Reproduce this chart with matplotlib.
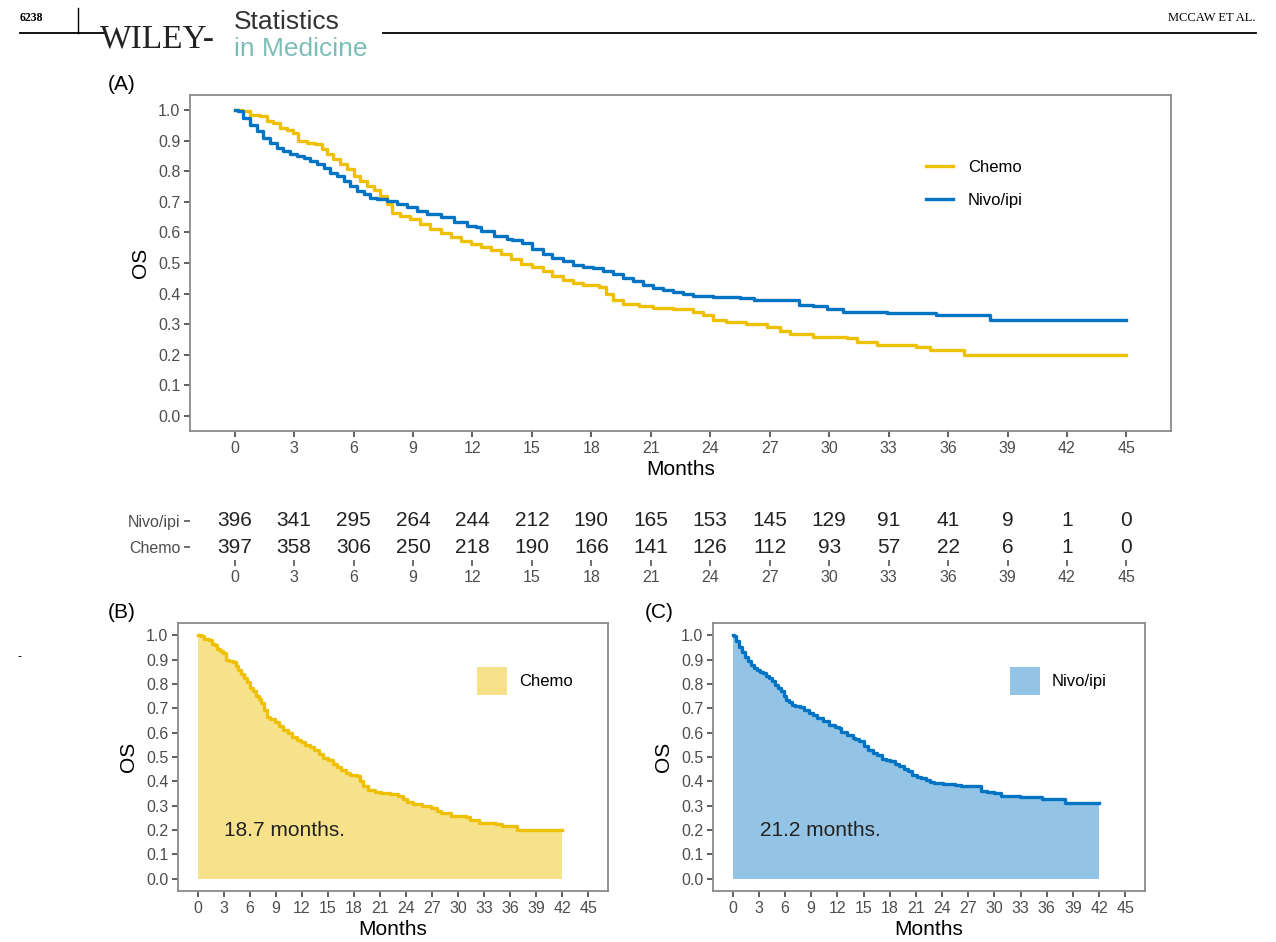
import numpy as np
import matplotlib
matplotlib.use('Agg')
import matplotlib.pyplot as plt
from matplotlib.lines import Line2D
from matplotlib.patches import Patch

plt.rcParams['font.family'] = ['Liberation Sans', 'DejaVu Sans']

# Kaplan-Meier step points (months, OS)
nivo_t = [0, 0.19, 0.44, 0.78, 1.11, 1.45, 1.79, 2.13, 2.46, 2.8, 3.14, 3.48, 3.81, 4.15,
          4.49, 4.82, 5.16, 5.5, 5.84, 6.17, 6.51, 6.85, 7.19, 7.69, 8.2, 8.7, 9.21, 9.72,
          10.39, 11.07, 11.74, 12.16, 12.42, 13.09, 13.77, 14.02, 14.52, 15.03, 15.54,
          16.04, 16.55, 17.06, 17.56, 18.07, 18.57, 19.08, 19.59, 20.09, 20.6, 21.1, 21.61,
          22.12, 22.62, 23.13, 24.14, 25.5, 26.2, 28.5, 29.2, 29.9, 30.7, 32.9, 35.4, 38.1,
          45]
nivo_s = [1.0, 0.997, 0.975, 0.953, 0.932, 0.91, 0.894, 0.877, 0.866, 0.856, 0.85, 0.845,
          0.834, 0.823, 0.812, 0.796, 0.785, 0.769, 0.752, 0.736, 0.725, 0.714, 0.709, 0.704,
          0.693, 0.682, 0.671, 0.66, 0.649, 0.633, 0.622, 0.619, 0.604, 0.59, 0.578, 0.575,
          0.565, 0.546, 0.528, 0.517, 0.508, 0.492, 0.486, 0.484, 0.473, 0.463, 0.452, 0.441,
          0.427, 0.419, 0.413, 0.405, 0.397, 0.392, 0.389, 0.387, 0.38, 0.362, 0.358, 0.351,
          0.339, 0.336, 0.329, 0.313, 0.313]

chemo_t = [0, 0.35, 0.78, 1.28, 1.62, 1.96, 2.29, 2.63, 2.97, 3.22, 3.64, 4.06, 4.4, 4.66,
           4.99, 5.33, 5.67, 6.01, 6.34, 6.68, 7.02, 7.36, 7.69, 7.95, 8.37, 8.87, 9.38,
           9.88, 10.39, 10.9, 11.4, 11.91, 12.42, 12.92, 13.43, 13.93, 14.44, 15.03, 15.54,
           16.04, 16.55, 17.06, 17.56, 18.4, 18.74, 19.08, 19.59, 20.43, 21.1, 22.12, 23.13,
           23.63, 24.14, 24.81, 25.83, 26.84, 27.51, 28.02, 29.2, 30.9, 31.4, 32.4, 34.4,
           35.1, 36.8, 45]
chemo_s = [1.0, 0.997, 0.986, 0.98, 0.964, 0.959, 0.942, 0.934, 0.926, 0.899, 0.894, 0.888,
           0.872, 0.856, 0.839, 0.823, 0.807, 0.785, 0.769, 0.752, 0.738, 0.72, 0.693, 0.665,
           0.655, 0.644, 0.628, 0.611, 0.597, 0.584, 0.571, 0.562, 0.551, 0.541, 0.528, 0.514,
           0.497, 0.486, 0.473, 0.459, 0.445, 0.434, 0.427, 0.421, 0.4, 0.38, 0.365, 0.358,
           0.354, 0.348, 0.34, 0.329, 0.315, 0.307, 0.3, 0.291, 0.278, 0.269, 0.258, 0.254,
           0.241, 0.231, 0.225, 0.215, 0.199, 0.199]

# number at risk
risk_times = list(range(0, 46, 3))
nivo_risk = [396, 341, 295, 264, 244, 212, 190, 165, 153, 145, 129, 91, 41, 9, 1, 0]
chemo_risk = [397, 358, 306, 250, 218, 190, 166, 141, 126, 112, 93, 57, 22, 6, 1, 0]

# restricted mean survival labels and cutoff used in (B) and (C)
tau = 42
chemo_rmst = '18.7 months.'
nivo_rmst = '21.2 months.'

blue = '#0073C2'
yellow = '#EFC000'
grey_txt = '#4D4D4D'
border = '#8A8A8A'

W, H = 1276, 942


def box(l, t, r, b):
    return [l / W, 1 - b / H, (r - l) / W, (b - t) / H]


def style_km(ax, fs=11.5):
    ax.set_xlim(-2.25, 47.25)
    ax.set_ylim(-0.05, 1.05)
    ax.set_xticks(risk_times)
    ax.set_yticks(np.round(np.arange(0, 1.01, 0.1), 1))
    ax.set_yticklabels(['%.1f' % v for v in np.arange(0, 1.01, 0.1)])
    for s in ax.spines.values():
        s.set_color(border)
        s.set_linewidth(1.3)
    ax.tick_params(direction='out', length=4, width=1.2, color='#444444',
                   labelcolor=grey_txt, labelsize=fs, pad=3)
    ax.set_ylabel('OS', fontsize=15, color='black', labelpad=6)
    ax.set_xlabel('Months', fontsize=15, color='black', labelpad=3)


def cut(t, s, end):
    tt = [v for v in t if v < end] + [end]
    ss = s[:len(tt) - 1] + [s[len(tt) - 2]]
    return tt, ss


fig = plt.figure(figsize=(12.76, 9.42), dpi=100)

# (A) both curves
ax_a = fig.add_axes(box(190, 95, 1171, 431))
ax_a.step(chemo_t, chemo_s, where='post', color=yellow, lw=2.4, label='Chemo')
ax_a.step(nivo_t, nivo_s, where='post', color=blue, lw=2.4, label='Nivo/ipi')
style_km(ax_a)
ax_a.legend(loc='center left', bbox_to_anchor=(0.742, 0.735), frameon=False, fontsize=12,
            handlelength=1.6, handletextpad=0.9, labelspacing=1.1, borderpad=0)

# risk table
ax_r = fig.add_axes(box(190, 508, 1171, 560))
ax_r.set_xlim(-2.25, 47.25)
ax_r.set_ylim(0.52, 2.48)
for t, n1, n2 in zip(risk_times, nivo_risk, chemo_risk):
    ax_r.text(t, 2, str(n1), ha='center', va='center', fontsize=15, color='#222222')
    ax_r.text(t, 1, str(n2), ha='center', va='center', fontsize=15, color='#222222')
ax_r.set_yticks([1, 2])
ax_r.set_yticklabels(['Chemo', 'Nivo/ipi'], fontsize=12.5)
ax_r.set_xticks(risk_times)
for s in ax_r.spines.values():
    s.set_visible(False)
ax_r.tick_params(direction='out', length=4, width=1.2, color='#555555',
                 labelcolor=grey_txt, labelsize=11.5, pad=3)

# (B) chemo area
ax_b = fig.add_axes(box(178, 623, 608, 891))
tb, sb = cut(chemo_t, chemo_s, tau)
ax_b.fill_between(tb, sb, 0, step='post', color=yellow, alpha=0.45, lw=0)
ax_b.step(tb, sb, where='post', color=yellow, lw=2.4)
style_km(ax_b)
ax_b.text(10, 0.2, chemo_rmst, ha='center', va='center', fontsize=15, color='#222222')
ax_b.legend(handles=[Patch(color=yellow, alpha=0.45, lw=0)], labels=['Chemo'],
            loc='center left', bbox_to_anchor=(0.677, 0.784), frameon=False, fontsize=12,
            handlelength=1.8, handleheight=2.2, handletextpad=0.7, borderpad=0)

# (C) nivo/ipi area
ax_c = fig.add_axes(box(713, 623, 1145, 891))
tc, sc = cut(nivo_t, nivo_s, tau)
ax_c.fill_between(tc, sc, 0, step='post', color=blue, alpha=0.42, lw=0)
ax_c.step(tc, sc, where='post', color=blue, lw=2.4)
style_km(ax_c)
ax_c.text(10, 0.2, nivo_rmst, ha='center', va='center', fontsize=15, color='#222222')
ax_c.legend(handles=[Patch(color=blue, alpha=0.42, lw=0)], labels=['Nivo/ipi'],
            loc='center left', bbox_to_anchor=(0.669, 0.784), frameon=False, fontsize=12,
            handlelength=1.8, handleheight=2.2, handletextpad=0.7, borderpad=0)

# panel tags
fig.text(108 / W, 1 - 85 / H, '(A)', fontsize=15, va='center')
fig.text(108 / W, 1 - 612 / H, '(B)', fontsize=15, va='center')
fig.text(645 / W, 1 - 612 / H, '(C)', fontsize=15, va='center')
fig.text(18 / W, 1 - 657 / H, '-', fontsize=9, va='center')

# journal header
fig.text(20 / W, 1 - 18 / H, '6238', fontsize=8.5, family='Liberation Serif',
         weight='bold', va='center')
fig.add_artist(Line2D([78 / W, 78 / W], [1 - 8 / H, 1 - 33 / H], color='black', lw=1))
fig.add_artist(Line2D([20 / W, 104 / W], [1 - 33 / H, 1 - 33 / H], color='black', lw=1.3))
fig.add_artist(Line2D([383 / W, 1256 / W], [1 - 33 / H, 1 - 33 / H], color='black', lw=1.3))
fig.text(100 / W, 1 - 47 / H, 'WILEY-', fontsize=24, family='Liberation Serif',
         color='#222222', va='baseline')
fig.text(234 / W, 1 - 29 / H, 'Statistics', fontsize=19, color='#333333', va='baseline')
fig.text(234 / W, 1 - 56 / H, 'in Medicine', fontsize=19, color='#7DBDB8', va='baseline')
fig.text(1256 / W, 1 - 18 / H, 'MCCAW ET AL.', fontsize=9, family='Liberation Serif',
         ha='right', va='center')

fig.savefig('out.png', dpi=100)
